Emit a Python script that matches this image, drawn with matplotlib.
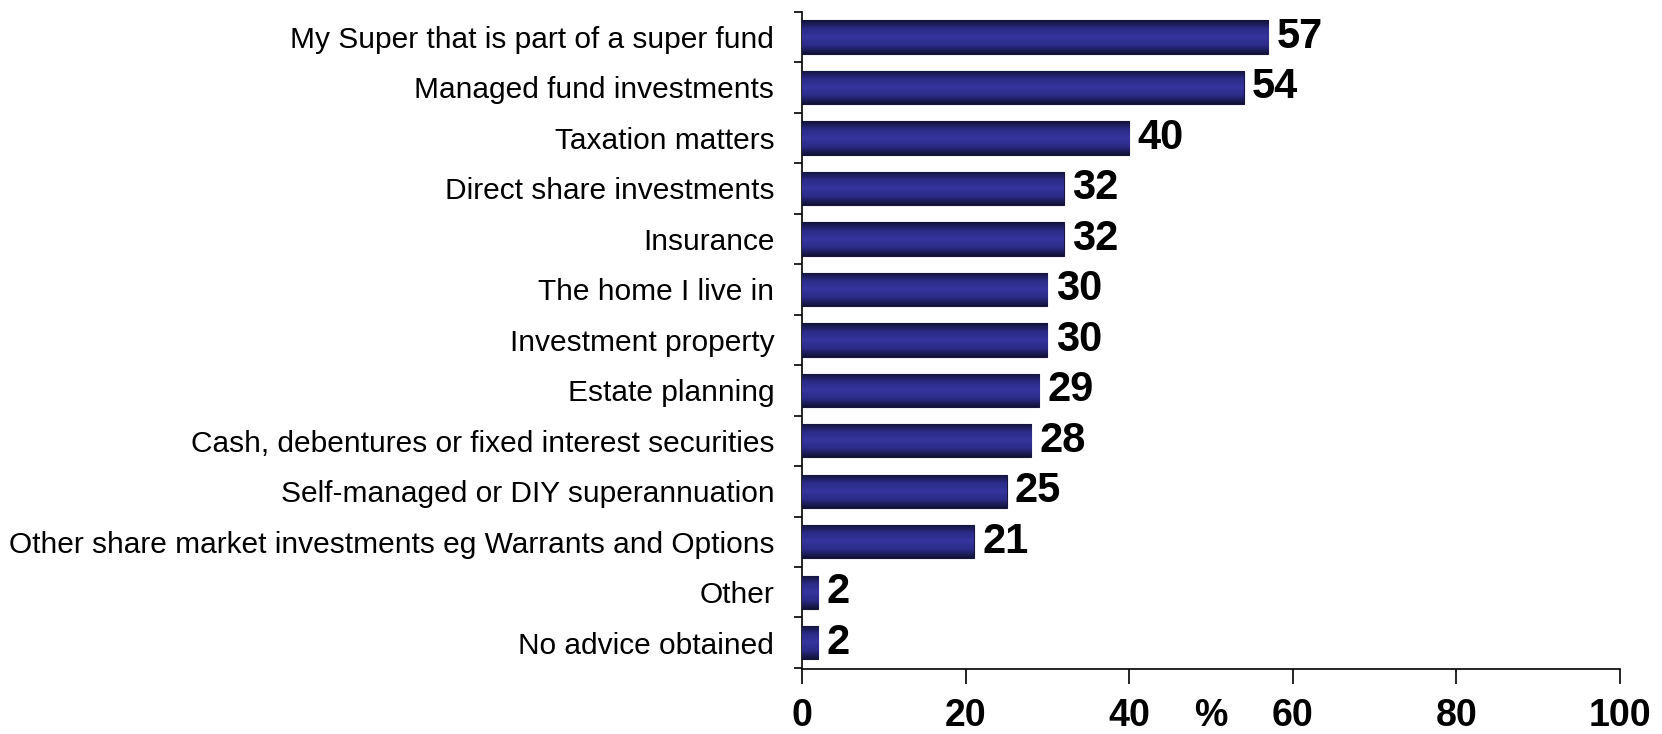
import numpy as np
import matplotlib
matplotlib.use("Agg")
import matplotlib.pyplot as plt
from matplotlib.colors import LinearSegmentedColormap
from matplotlib.transforms import offset_copy

categories = [
    "My Super that is part of a super fund",
    "Managed fund investments",
    "Taxation matters",
    "Direct share investments",
    "Insurance",
    "The home I live in",
    "Investment property",
    "Estate planning",
    "Cash, debentures or fixed interest securities",
    "Self-managed or DIY superannuation",
    "Other share market investments eg Warrants and Options",
    "Other",
    "No advice obtained",
]
values = [57, 54, 40, 32, 32, 30, 30, 29, 28, 25, 21, 2, 2]
x_ticks = [0, 20, 40, 60, 80, 100]

plt.rcParams["font.family"] = ["Liberation Sans", "DejaVu Sans"]

fig = plt.figure(figsize=(16.62, 7.34), dpi=100)
ax = fig.add_axes([0.4826, 0.0886, 0.4921, 0.8954])

pos = np.arange(len(categories))
bars = ax.barh(pos, values, height=0.66, color="#2a2a80", edgecolor="#15153d", linewidth=0.8, zorder=2)

# vertical shading: dark edges, lighter blue in the middle of each bar
shade = LinearSegmentedColormap.from_list("shade", ["#121236", "#2b2b88", "#35359e", "#2b2b88", "#121236"])
grad = np.linspace(0, 1, 64).reshape(-1, 1)
for bar in bars:
    x0, y0 = bar.get_x(), bar.get_y()
    w, h = bar.get_width(), bar.get_height()
    im = ax.imshow(grad, cmap=shade, aspect="auto", extent=(x0, x0 + w, y0 + h, y0),
                   zorder=3, interpolation="bilinear")
    im.set_clip_path(bar)

for p, v in zip(pos, values):
    ax.text(v + 1.0, p, str(v), va="center", ha="left", fontsize=30, fontweight="bold", zorder=4)

ax.set_xlim(0, 100)
ax.set_ylim(len(categories) - 0.48, -0.41)

tick_len, tick_pad = 11, 10
ax.set_xticks(x_ticks)
ax.set_xticklabels([str(t) for t in x_ticks], fontsize=27, fontweight="bold")
ax.tick_params(axis="x", direction="out", length=tick_len, width=1.2, pad=tick_pad)

# category ticks sit between bars, labels at the bar centres
ax.set_yticks(np.arange(len(categories) + 1) - 0.5)
ax.set_yticklabels([])
ax.set_yticks(pos, minor=True)
ax.set_yticklabels(categories, minor=True, fontsize=21.5)
ax.tick_params(axis="y", which="major", direction="out", length=6, width=1.2)
ax.tick_params(axis="y", which="minor", length=0, pad=20)

# unit label on the same row as the x tick labels
pct_tr = offset_copy(ax.get_xaxis_transform(), fig=fig, y=-(tick_len + tick_pad), units="points")
ax.text(50, 0, "%", transform=pct_tr, ha="center", va="top", fontsize=27, fontweight="bold")

for side in ["top", "right"]:
    ax.spines[side].set_visible(False)
for side in ["left", "bottom"]:
    ax.spines[side].set_linewidth(1.2)

fig.savefig("out.png", dpi=100)
